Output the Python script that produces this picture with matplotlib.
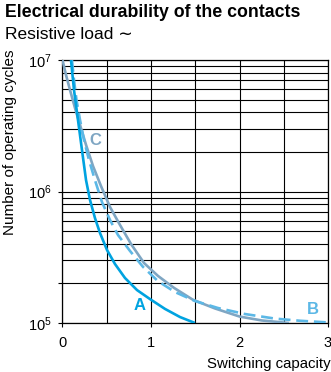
import matplotlib
matplotlib.use("Agg")
import matplotlib.pyplot as plt
from matplotlib.ticker import FixedLocator, NullFormatter, LogFormatterMathtext

plt.rcParams['font.family'] = ['Liberation Sans', 'DejaVu Sans']
plt.rcParams['mathtext.fontset'] = 'custom'
plt.rcParams['mathtext.rm'] = 'Liberation Sans'

# curves (switching capacity, operating cycles)
a_x = [0.096, 0.130, 0.175, 0.220, 0.266, 0.311, 0.367, 0.424, 0.503, 0.593,
       0.706, 0.842, 0.989, 1.158, 1.328, 1.497]
a_y = [1e7, 5.91e6, 3.50e6, 2.07e6, 1.22e6, 8.61e5, 6.28e5, 4.83e5, 3.59e5, 2.81e5,
       2.20e5, 1.78e5, 1.52e5, 1.28e5, 1.11e5, 1e5]

b_x = [0.107, 0.130, 0.158, 0.198, 0.243, 0.299, 0.367, 0.446, 0.537, 0.627,
       0.763, 0.910, 1.079, 1.271, 1.497, 1.757, 2.062, 2.401, 2.684, 3.0]
b_y = [1e7, 7.05e6, 4.97e6, 3.50e6, 2.46e6, 1.74e6, 1.22e6, 8.32e5, 6.07e5, 4.67e5,
       3.53e5, 2.67e5, 2.08e5, 1.72e5, 1.47e5, 1.30e5, 1.17e5, 1.08e5, 1.04e5, 1.01e5]

c_x = [0.0, 0.040, 0.085, 0.141, 0.198, 0.266, 0.345, 0.435, 0.537, 0.650,
       0.774, 0.921, 1.079, 1.260, 1.475, 1.723, 2.0, 2.254, 2.559]
c_y = [1e7, 7.69e6, 5.91e6, 4.32e6, 3.21e6, 2.26e6, 1.56e6, 1.10e6, 7.62e5, 5.56e5,
       3.99e5, 2.86e5, 2.28e5, 1.85e5, 1.50e5, 1.29e5, 1.12e5, 1.045e5, 1e5]

x_ticks = [0, 1, 2, 3]
x_grid = [0.5, 1.5, 2.5]
y_minor = [m * 10**e for e in (5, 6) for m in range(2, 10)]

col_a = '#00a3e0'
col_b = '#5cb8e6'
col_c = '#7fa6c3'

fig = plt.figure(figsize=(3.31, 3.72), dpi=100)
ax = fig.add_axes([0.1888, 0.1317, 0.991 - 0.1888, 0.8387 - 0.1317])

ax.plot(c_x, c_y, color=col_c, lw=1.9, solid_capstyle='butt', zorder=3)
ax.plot(b_x, b_y, color=col_b, lw=1.9, ls=(0, (4.5, 2.2)), zorder=4)
ax.plot(a_x, a_y, color=col_a, lw=1.9, solid_capstyle='butt', zorder=5)

ax.set_yscale('log')
ax.set_xlim(0, 3)
ax.set_ylim(1e5, 1e7)

ax.set_xticks(x_ticks)
ax.xaxis.set_minor_locator(FixedLocator(x_grid))
ax.yaxis.set_major_locator(FixedLocator([1e5, 2e5, 1e6, 1e7]))
ax.yaxis.set_major_formatter(LogFormatterMathtext(labelOnlyBase=True))
ax.yaxis.set_minor_locator(FixedLocator(y_minor))
ax.yaxis.set_minor_formatter(NullFormatter())

ax.grid(which='both', color='black', lw=0.8)
ax.set_axisbelow(True)
for s in ax.spines.values():
    s.set_linewidth(0.9)
ax.tick_params(which='major', length=3, width=0.8, labelsize=10.5, pad=5)
ax.tick_params(axis='x', pad=6)
ax.tick_params(which='minor', length=0)

ax.text(0.87, 1.35e5, 'A', color=col_a, fontsize=12, weight='bold', ha='center', va='center')
ax.text(2.825, 1.26e5, 'B', color=col_b, fontsize=12, weight='bold', ha='center', va='center')
ax.text(0.371, 2.43e6, 'C', color=col_c, fontsize=12, weight='bold', ha='center', va='center')

fig.text(5 / 331, 1 - 17.3 / 372, 'Electrical durability of the contacts', fontsize=12.8,
         weight='bold', va='baseline', ha='left')
fig.text(5 / 331, 1 - 39.3 / 372, 'Resistive load \u223c', fontsize=12.5, va='baseline', ha='left')
fig.text(10 / 331, 1 - 142.5 / 372, 'Number of operating cycles', fontsize=11, rotation=90,
         va='center', ha='center')
fig.text(207 / 331, 1 - 368 / 372, 'Switching capacity', fontsize=10.8, va='baseline', ha='left')

fig.savefig('out.png', dpi=100)
